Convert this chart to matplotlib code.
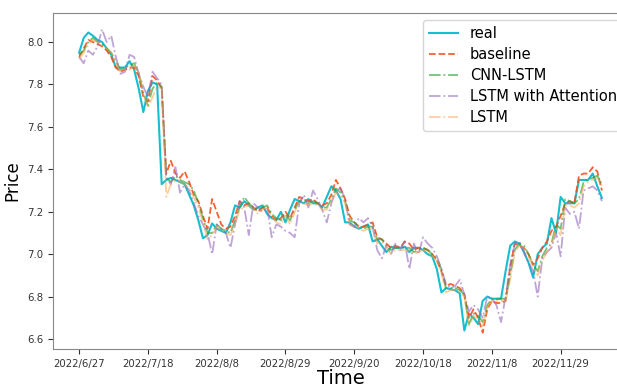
import matplotlib
matplotlib.use('Agg')
import matplotlib.pyplot as plt

# tick labels every 15 trading days
tick_labels = ['2022/6/27', '2022/7/18', '2022/8/8', '2022/8/29',
               '2022/9/20', '2022/10/18', '2022/11/8', '2022/11/29']

real = [7.95, 8.02, 8.045, 8.03, 8.01, 8.00, 7.97, 7.94, 7.88, 7.88,
        7.88, 7.91, 7.87, 7.78, 7.67, 7.77, 7.81, 7.80, 7.33, 7.35,
        7.36, 7.35, 7.34, 7.33, 7.28, 7.23, 7.16, 7.075, 7.09, 7.145,
        7.12, 7.11, 7.10, 7.15, 7.23, 7.22, 7.25, 7.23, 7.21, 7.22,
        7.23, 7.19, 7.17, 7.16, 7.20, 7.15, 7.21, 7.26, 7.25, 7.24,
        7.26, 7.24, 7.24, 7.22, 7.27, 7.32, 7.30, 7.26, 7.15, 7.15,
        7.13, 7.12, 7.13, 7.14, 7.06, 7.07, 7.04, 7.01, 7.035, 7.03,
        7.03, 7.035, 7.01, 7.03, 7.03, 7.02, 7.00, 6.99, 6.93, 6.82,
        6.84, 6.835, 6.83, 6.815, 6.64, 6.72, 6.70, 6.67, 6.78, 6.80,
        6.79, 6.79, 6.79, 6.92, 7.04, 7.06, 7.05, 7.01, 6.96, 6.89,
        7.00, 7.03, 7.05, 7.17, 7.10, 7.27, 7.24, 7.24, 7.24, 7.35,
        7.35, 7.35, 7.38, 7.32, 7.265]

baseline = [7.93, 7.97, 8.01, 8.00, 7.99, 7.98, 7.96, 7.93, 7.88, 7.86,
            7.87, 7.88, 7.88, 7.84, 7.74, 7.72, 7.84, 7.82, 7.78, 7.38,
            7.44, 7.38, 7.36, 7.39, 7.34, 7.28, 7.25, 7.18, 7.12, 7.26,
            7.20, 7.14, 7.12, 7.13, 7.18, 7.25, 7.23, 7.24, 7.22, 7.20,
            7.22, 7.22, 7.18, 7.16, 7.17, 7.20, 7.17, 7.22, 7.27, 7.26,
            7.25, 7.26, 7.24, 7.23, 7.24, 7.28, 7.35, 7.31, 7.26, 7.18,
            7.15, 7.13, 7.13, 7.14, 7.15, 7.08, 7.07, 7.05, 7.03, 7.04,
            7.03, 7.06, 7.05, 7.02, 7.03, 7.03, 7.02, 7.00, 6.97, 6.92,
            6.85, 6.86, 6.85, 6.84, 6.81, 6.70, 6.74, 6.70, 6.63, 6.74,
            6.78, 6.77, 6.77, 6.78, 6.94, 7.05, 7.04, 7.03, 7.00, 6.95,
            6.98, 7.03, 7.06, 7.11, 7.13, 7.18, 7.24, 7.25, 7.24, 7.37,
            7.38, 7.38, 7.41, 7.39, 7.30]

cnn_lstm = [7.94, 7.96, 8.00, 8.02, 8.00, 7.99, 7.97, 7.95, 7.91, 7.87,
            7.88, 7.89, 7.90, 7.85, 7.76, 7.70, 7.78, 7.81, 7.79, 7.36,
            7.34, 7.37, 7.35, 7.34, 7.33, 7.30, 7.24, 7.17, 7.10, 7.10,
            7.14, 7.12, 7.11, 7.10, 7.16, 7.22, 7.27, 7.24, 7.22, 7.21,
            7.22, 7.23, 7.19, 7.17, 7.16, 7.19, 7.16, 7.21, 7.25, 7.26,
            7.24, 7.25, 7.24, 7.22, 7.22, 7.26, 7.31, 7.29, 7.25, 7.16,
            7.15, 7.13, 7.12, 7.13, 7.13, 7.07, 7.07, 7.04, 7.02, 7.03,
            7.03, 7.03, 7.03, 7.01, 7.02, 7.03, 7.02, 7.00, 6.98, 6.93,
            6.84, 6.84, 6.84, 6.83, 6.81, 6.67, 6.72, 6.71, 6.68, 6.76,
            6.79, 6.79, 6.79, 6.79, 6.90, 7.02, 7.05, 7.04, 7.00, 6.95,
            6.92, 6.99, 7.03, 7.05, 7.14, 7.12, 7.26, 7.25, 7.24, 7.26,
            7.34, 7.35, 7.36, 7.37, 7.33]

lstm_att = [7.93, 7.90, 7.96, 7.94, 7.98, 8.06, 8.00, 8.03, 7.93, 7.85,
            7.86, 7.94, 7.93, 7.85, 7.79, 7.74, 7.86, 7.83, 7.80, 7.36,
            7.33, 7.41, 7.29, 7.33, 7.30, 7.24, 7.18, 7.14, 7.10, 7.00,
            7.14, 7.12, 7.10, 7.03, 7.14, 7.25, 7.22, 7.09, 7.24, 7.22,
            7.20, 7.22, 7.08, 7.14, 7.13, 7.11, 7.10, 7.08, 7.24, 7.28,
            7.22, 7.30, 7.26, 7.21, 7.15, 7.24, 7.30, 7.31, 7.26, 7.14,
            7.13, 7.17, 7.15, 7.17, 7.13, 7.02, 6.98, 7.04, 7.00, 7.05,
            7.02, 7.06, 6.93, 7.05, 7.00, 7.08, 7.05, 7.03, 6.99, 6.93,
            6.86, 6.84, 6.85, 6.88, 6.81, 6.73, 6.76, 6.74, 6.70, 6.80,
            6.79, 6.76, 6.68, 6.80, 6.95, 7.05, 7.06, 7.01, 6.96, 6.92,
            6.80, 6.98, 7.01, 7.03, 7.10, 6.99, 7.22, 7.19, 7.20, 7.12,
            7.30, 7.31, 7.32, 7.30, 7.25]

lstm = [7.92, 7.95, 7.99, 8.01, 8.00, 7.98, 7.97, 7.95, 7.90, 7.86,
        7.87, 7.87, 7.89, 7.86, 7.77, 7.69, 7.74, 7.79, 7.78, 7.27,
        7.33, 7.35, 7.34, 7.33, 7.31, 7.27, 7.22, 7.15, 7.07, 7.09,
        7.13, 7.11, 7.10, 7.09, 7.14, 7.21, 7.22, 7.23, 7.21, 7.19,
        7.21, 7.22, 7.18, 7.15, 7.14, 7.18, 7.14, 7.20, 7.24, 7.24,
        7.23, 7.24, 7.23, 7.21, 7.21, 7.25, 7.29, 7.28, 7.24, 7.14,
        7.13, 7.12, 7.11, 7.12, 7.12, 7.05, 7.06, 7.03, 7.00, 7.02,
        7.02, 7.02, 7.02, 7.00, 7.01, 7.02, 7.01, 6.99, 6.97, 6.91,
        6.82, 6.83, 6.83, 6.82, 6.80, 6.66, 6.71, 6.69, 6.66, 6.75,
        6.78, 6.78, 6.78, 6.78, 6.88, 7.01, 7.04, 7.03, 6.99, 6.94,
        6.90, 6.97, 7.01, 7.04, 7.12, 7.09, 7.23, 7.23, 7.22, 7.24,
        7.32, 7.34, 7.35, 7.36, 7.32]

x = list(range(len(real)))

fig = plt.figure(figsize=(6.17, 3.88), dpi=100)
# the original is cropped on the right, so the axes run past the figure edge
ax = fig.add_axes([0.0859, 0.1005, 0.932, 0.866])

ax.plot(x, real, color='#17becf', linewidth=1.5, label='real')
ax.plot(x, baseline, '--', color='#f4511e', linewidth=1.3, alpha=0.9, label='baseline')
ax.plot(x, cnn_lstm, '-.', color='#2ca02c', linewidth=1.3, alpha=0.65, label='CNN-LSTM')
ax.plot(x, lstm_att, '-.', color='#9467bd', linewidth=1.3, alpha=0.6, label='LSTM with Attention')
ax.plot(x, lstm, '-.', color='#ff9f40', linewidth=1.3, alpha=0.5, label='LSTM')

ax.set_xticks(x[::15])
ax.set_xticklabels(tick_labels)
ax.set_ylim(6.553, 8.137)
ax.tick_params(labelsize=7.3, colors='#333333')
for s in ax.spines.values():
    s.set_color('#888888')
ax.set_xlabel('Time', fontsize=14, labelpad=0)
ax.set_ylabel('Price', fontsize=12)
ax.legend(loc='upper left', bbox_to_anchor=(0.6435, 0.979), borderaxespad=0,
          fontsize=10.5, labelspacing=0.42)

fig.savefig('out.png', dpi=100)
